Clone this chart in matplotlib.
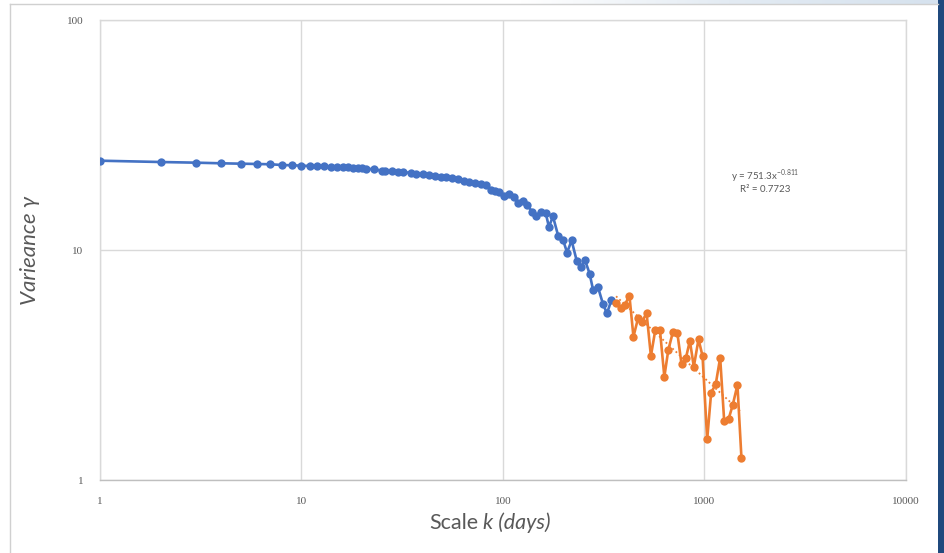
import matplotlib
matplotlib.use("Agg")
import matplotlib.pyplot as plt
from matplotlib.patches import Rectangle
from matplotlib.lines import Line2D
from matplotlib.colors import LinearSegmentedColormap
import matplotlib.ticker as mticker
import numpy as np

# ---- data ----
blue_k = [1, 2, 3, 4, 5, 6, 7, 8, 9, 10, 11, 12, 13, 14, 15, 16, 17, 18, 19, 20, 21,
          23, 25, 26, 28, 30, 32, 35, 37, 40, 43,
          46, 49, 52, 56, 60, 64, 68, 73, 78, 82,
          87, 91, 95, 101, 107, 113, 119, 126, 132, 140,
          145, 154, 163, 169, 177, 188, 199, 208, 219, 232,
          243, 255, 269, 280, 296, 313, 328, 345]
blue_v = [24.45, 24.13, 23.97, 23.82, 23.73, 23.66, 23.59, 23.42, 23.35, 23.26,
          23.2, 23.15, 23.1, 23.05, 23.0, 22.95, 22.9, 22.8, 22.75, 22.7, 22.6,
          22.4, 22.15, 22.05, 21.95, 21.9, 21.8, 21.65, 21.5, 21.3, 21.1,
          20.95, 20.85, 20.7, 20.55, 20.3, 20.05, 19.8, 19.5, 19.3, 19.2,
          18.3, 18.0, 17.8, 17.1, 17.5, 17.05, 15.95, 16.35, 15.7, 14.6,
          14.1, 14.6, 14.45, 12.6, 14.0, 11.5, 11.0, 9.75, 11.0, 9.0,
          8.4, 9.05, 7.9, 6.7, 6.9, 5.85, 5.3, 6.05]

orange_k = [364, 383, 402, 424, 444, 468, 489, 516, 542, 570, 601, 632, 661, 697, 733,
            769, 808, 846, 885, 934, 978, 1031, 1079, 1137, 1196, 1252, 1319, 1381, 1457, 1525]
orange_v = [5.87, 5.58, 5.77, 6.33, 4.20, 5.05, 4.88, 5.31, 3.46, 4.49, 4.49, 2.81, 3.67, 4.40, 4.37,
            3.19, 3.38, 4.03, 3.11, 4.09, 3.46, 1.50, 2.40, 2.61, 3.40, 1.81, 1.85, 2.12, 2.59, 1.25]

trend_a = 751.3
trend_b = -0.811
trend_label = "y = 751.3x$^{\\mathregular{-0.811}}$"
r2_label = "R² = 0.7723"

x_ticks = [1, 10, 100, 1000, 10000]
x_tick_labels = ["1", "10", "100", "1000", "10000"]
y_ticks = [1, 10, 100]
y_tick_labels = ["1", "10", "100"]

x_title_a = "Scale"
x_title_b = "k (days)"
y_title = "Varieance γ"

BLUE = "#4472C4"
ORANGE = "#ED7D31"
GRID = "#D9D9D9"
TXT = "#595959"

W, H = 945, 553
fig = plt.figure(figsize=(W / 100, H / 100), dpi=100)
fig.patch.set_facecolor("white")

# outer frame details
fig.add_artist(Line2D([10 / W, 10 / W], [0, 1 - 4 / H], color="#D0D0D0", lw=1.0,
                      transform=fig.transFigure))
fig.add_artist(Line2D([10 / W, 938 / W], [1 - 4 / H, 1 - 4 / H], color="#D0D0D0", lw=1.0,
                      transform=fig.transFigure))
fig.add_artist(Rectangle((938 / W, 0), 7 / W, 1, transform=fig.transFigure,
                         facecolor="#1F497D", edgecolor="none"))
gax = fig.add_axes([520 / W, 1 - 4 / H, 418 / W, 4 / H])
grad = np.linspace(0, 1, 256).reshape(1, -1)
cmap = LinearSegmentedColormap.from_list("g", ["#FFFFFF", "#E3EBF3", "#D6E2EE"])
gax.imshow(grad, aspect="auto", cmap=cmap)
gax.axis("off")

ax = fig.add_axes([100 / W, 1 - 480 / H, 806 / W, 460 / H])
ax.set_xscale("log")
ax.set_yscale("log")
ax.set_xlim(1, 10000)
ax.set_ylim(1, 100)

ax.plot(blue_k, blue_v, color=BLUE, lw=1.9, marker="o", markersize=6.0,
        markeredgewidth=0, zorder=3)
ax.plot(orange_k, orange_v, color=ORANGE, lw=1.9, marker="o", markersize=6.0,
        markeredgewidth=0, zorder=3)

xs = np.geomspace(orange_k[0], orange_k[-1], 60)
ax.plot(xs, trend_a * xs ** trend_b, color=ORANGE, lw=1.3, linestyle=(0, (1, 1.5)), zorder=4)

ax.xaxis.set_major_locator(mticker.FixedLocator(x_ticks))
ax.xaxis.set_minor_locator(mticker.NullLocator())
ax.yaxis.set_major_locator(mticker.FixedLocator(y_ticks))
ax.yaxis.set_minor_locator(mticker.NullLocator())
ax.set_xticklabels(x_tick_labels, fontfamily="Liberation Serif", fontsize=8, color=TXT)
ax.set_yticklabels(y_tick_labels, fontfamily="Liberation Serif", fontsize=8, color=TXT)
ax.tick_params(axis="both", length=0)
ax.tick_params(axis="x", pad=12)
ax.tick_params(axis="y", pad=12)

ax.grid(True, which="major", color=GRID, lw=1.0)
ax.set_axisbelow(True)
for s in ["top", "right", "left"]:
    ax.spines[s].set_color(GRID)
    ax.spines[s].set_linewidth(1.0)
ax.spines["bottom"].set_color("#BFBFBF")
ax.spines["bottom"].set_linewidth(1.0)

fig.text(765 / W, 1 - 176 / H, trend_label, fontsize=7, color=TXT, ha="center", va="center",
         fontfamily="Lato")
fig.text(765 / W, 1 - 190 / H, r2_label, fontsize=7, color=TXT, ha="center", va="center",
         fontfamily="Lato")

fig.text(478 / W, 1 - 523 / H, x_title_a, fontsize=15.5, color=TXT, ha="right", va="center",
         fontfamily="Lato")
fig.text(483 / W, 1 - 523 / H, x_title_b, fontsize=15.5, color=TXT, ha="left", va="center",
         fontfamily="Lato", fontstyle="italic")
fig.text(30 / W, 1 - 250 / H, y_title, fontsize=16, color=TXT, ha="center", va="center",
         rotation=90, fontfamily="Lato", fontstyle="italic")

fig.savefig("out.png", dpi=100, facecolor="white")
